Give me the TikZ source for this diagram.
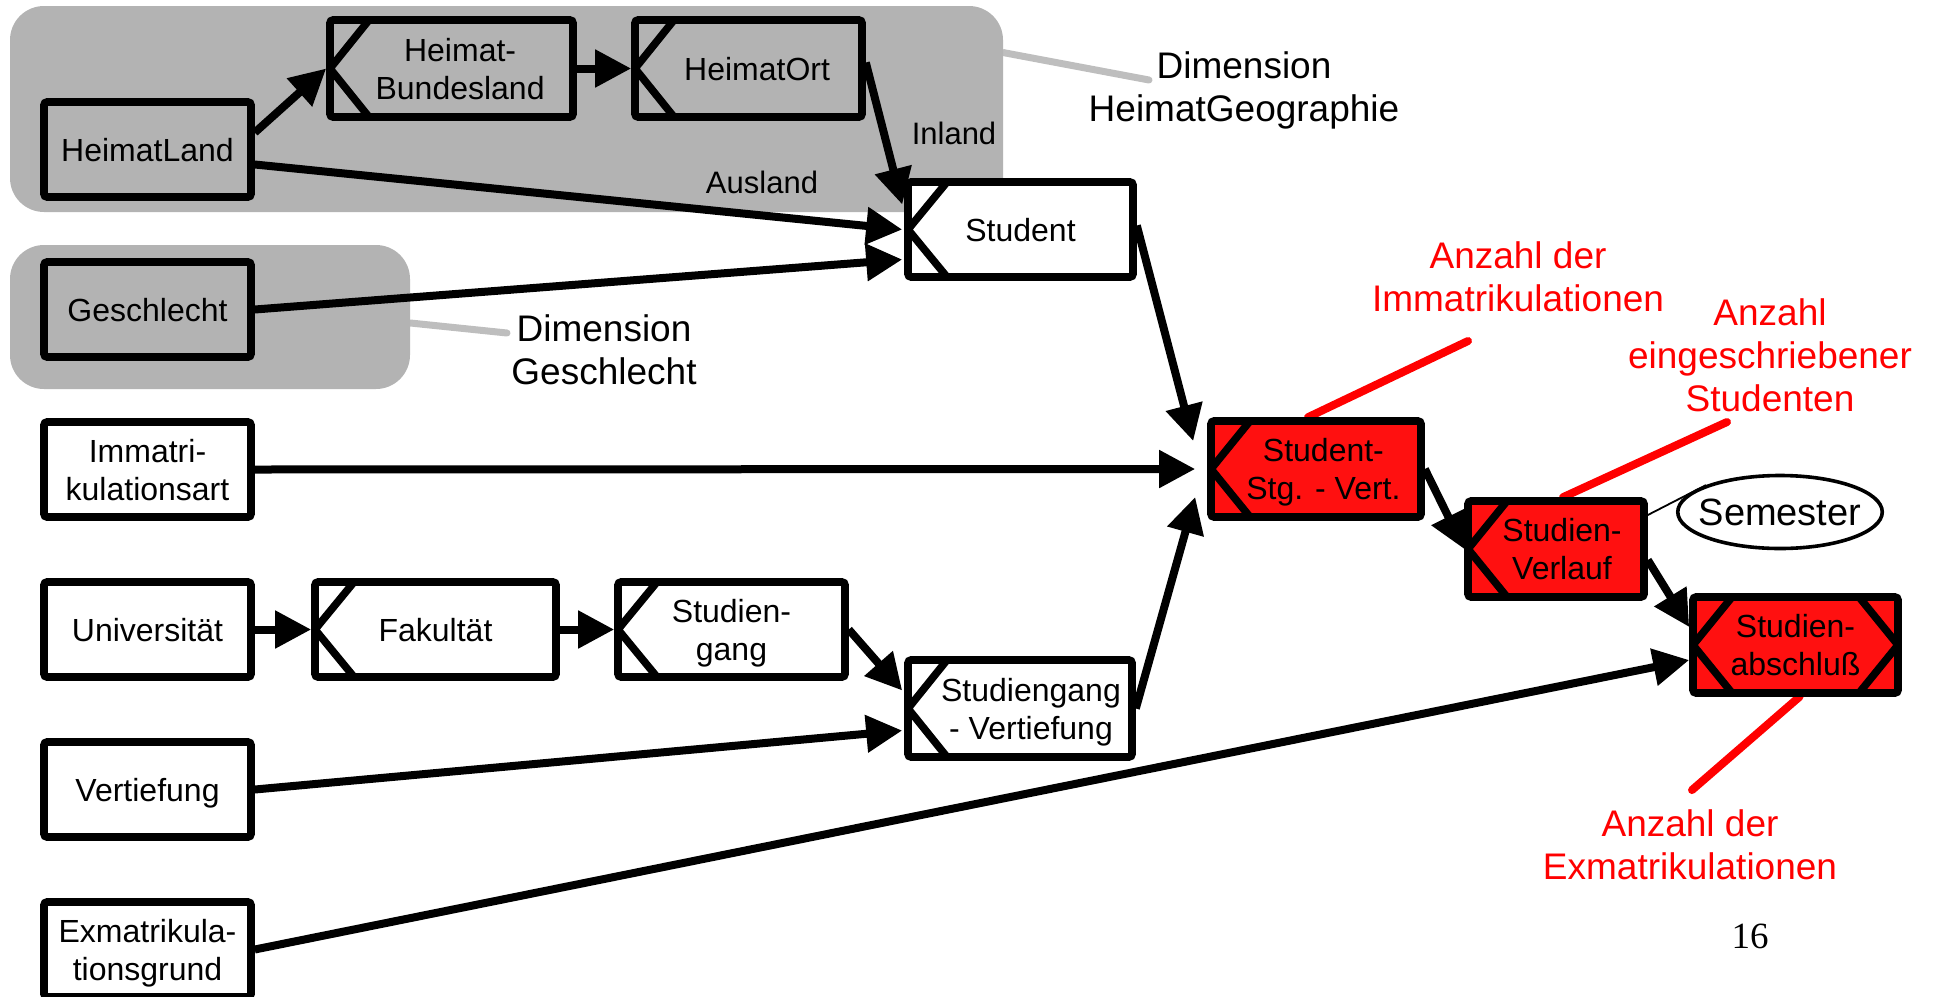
\documentclass[tikz,border=0pt]{standalone}
\usepackage{fontspec}
\setmainfont{Liberation Sans}
\newfontfamily\pagenumfont{Liberation Serif}
\usetikzlibrary{arrows.meta,calc,shapes.geometric,backgrounds}

\definecolor{regiongray}{RGB}{179,179,179}
\definecolor{leadergray}{RGB}{190,190,190}
\definecolor{factred}{RGB}{255,16,16}
\definecolor{notered}{RGB}{255,0,0}

% box caption: optional left padding, set slightly low in the box
\newcommand\boxtext[2][0pt]{\hspace*{#1}\raisebox{-2pt}[\height][\depth]{\begin{tabular}{@{}c@{}}#2\end{tabular}}}

\begin{document}
\begin{tikzpicture}[x=0.5pt,y=-0.5pt,
  region/.style={fill=regiongray, rounded corners=17pt, inner sep=0pt},
  box/.style={draw, line width=3.8pt, rounded corners=1.5pt,
    inner sep=0pt, font=\fontsize{16}{19}\selectfont, minimum height=47.5pt},
  dimbox/.style={box, fill=white},
  factbox/.style={box, fill=factred},
  notchleft/.style={path picture={
    \draw[line width=3.8pt]
      ([xshift=19.5pt]path picture bounding box.north west)
      -- (path picture bounding box.west)
      -- ([xshift=19.5pt]path picture bounding box.south west);}},
  notchboth/.style={path picture={
    \draw[line width=3.8pt]
      ([xshift=19.5pt]path picture bounding box.north west)
      -- (path picture bounding box.west)
      -- ([xshift=19.5pt]path picture bounding box.south west);
    \draw[line width=3.8pt]
      ([xshift=-19.5pt]path picture bounding box.north east)
      -- (path picture bounding box.east)
      -- ([xshift=-19.5pt]path picture bounding box.south east);}},
  conn/.style={line width=4pt, -{Triangle[length=18pt,width=18pt]}},
  redline/.style={draw=notered, line width=4pt, line cap=round},
  leader/.style={draw=leadergray, line width=3.5pt, line cap=round},
  lbl/.style={inner sep=0pt, align=center, font=\fontsize{18.5}{21.5}\selectfont},
  redlbl/.style={lbl, text=notered},
  smalllbl/.style={inner sep=0pt, font=\fontsize{15.5}{19}\selectfont}
]
\useasboundingbox (0,0) rectangle (1937,996);

% dimension areas
\node[region, minimum width=496.5pt, minimum height=103pt] (geoarea) at (506.5,109) {};
\node[region, minimum width=200pt, minimum height=72pt] (sexarea) at (210,317) {};

% dimension levels
\node[box, minimum width=103.5pt] (land) at (147.5,149.5) {\boxtext{HeimatLand}};
\node[box, notchleft, minimum width=121.5pt, minimum height=48.5pt] (bland) at (451.5,68.5) {\boxtext[8.6pt]{Heimat-\\Bundesland}};
\node[box, notchleft, minimum width=113.5pt, minimum height=48.5pt] (ort) at (748.5,68.5) {\boxtext[8.6pt]{HeimatOrt}};
\node[dimbox, notchleft, minimum width=112.5pt] (student) at (1020.5,229.5) {\boxtext{Student}};
\node[box, minimum width=103.5pt] (sex) at (147.5,309.5) {\boxtext{Geschlecht}};
\node[dimbox, minimum width=103.5pt] (immart) at (147.5,469.5) {\boxtext{Immatri-\\kulationsart}};
\node[dimbox, minimum width=103.5pt] (uni) at (147.5,629.5) {\boxtext{Universität}};
\node[dimbox, notchleft, minimum width=120.5pt] (fak) at (435.5,629.5) {\boxtext{Fakultät}};
\node[dimbox, notchleft, minimum width=113.5pt] (stg) at (731.5,629.5) {\boxtext{Studien-\\gang}};
\node[dimbox, notchleft, minimum width=112pt, minimum height=48.5pt] (stgvert) at (1020,708.5) {\boxtext[11pt]{Studiengang\\- Vertiefung}};
\node[dimbox, minimum width=103.5pt] (vert) at (147.5,789.5) {\boxtext{Vertiefung}};
\node[dimbox, minimum width=103.5pt] (exgrund) at (147.5,949.5) {\boxtext{Exmatrikula-\\tionsgrund}};

% fact tables
\node[factbox, notchleft, minimum width=105pt, minimum height=48pt] (ssv) at (1316,469) {\boxtext[7.4pt]{Student-\\Stg. - Vert.}};
\node[factbox, notchleft, minimum width=88pt, minimum height=48pt] (verlauf) at (1556,549) {\boxtext[6pt]{Studien-\\Verlauf}};
\node[factbox, notchboth, minimum width=102.5pt, minimum height=48pt] (abschluss) at (1795.5,645) {\boxtext{Studien-\\abschluß}};

\node[draw, ellipse, line width=1.8pt, minimum width=102pt, minimum height=36.5pt,
  inner xsep=-4.5pt, inner ysep=0pt, font=\fontsize{19}{21.5}\selectfont] (sem) at (1780,512) {Semester};

% annotations
\node[lbl] (dimgeo) at (1244,90) {Dimension\\HeimatGeographie};
\node[lbl] (dimsex) at (604,350) {Dimension\\Geschlecht};
\node[smalllbl] (inland) at (954,133) {Inland};
\node[smalllbl] (ausland) at (762,182) {Ausland};
\node[redlbl] (immnote) at (1518,277) {Anzahl der\\Immatrikulationen};
\node[redlbl] (studnote) at (1770,355) {Anzahl\\eingeschriebener\\Studenten};
\node[redlbl] (exnote) at (1690,845) {Anzahl der\\Exmatrikulationen};
\node[inner sep=0pt, font=\pagenumfont\fontsize{18.5}{21}\selectfont] (pagenum) at (1750,936) {16};

% free ends of the leader lines
\coordinate (geotip) at (1149,80);
\coordinate (sextip) at (507,333);
\coordinate (immtip) at (1468,341);
\coordinate (studtip) at (1727,422);
\coordinate (extip) at (1692,790);

\begin{scope}[on background layer]
  \draw[leader] ($(geoarea.north east)+(0,47)$) -- (geotip);
  \draw[leader] ($(sexarea.east)+(0,6)$) -- (sextip);
  \draw[redline] ($(ssv.north)+(-8,0)$) -- (immtip);
  \draw[redline] ($(verlauf.north)+(7,0)$) -- (studtip);
  \draw[redline] ($(abschluss.south)+(4,0)$) -- (extip);
\end{scope}

\draw[line width=0.9pt] ($(verlauf.east)+(0,-34)$) -- (sem.160);

% connectors
\draw[conn] ($(land.east)+(0,-17)$) -- (bland.west);
\draw[conn] (bland.east) -- (ort.west);
\draw[conn] ($(ort.east)+(0,-6)$) -- ($(student.west)+(-2,-25)$);
\draw[conn] ($(land.east)+(0,15)$) -- ($(student.west)+(-2,0)$);
\draw[conn] (sex.east) -- ($(student.west)+(-2,30)$);
\draw[conn] (immart.east) -- ($(ssv.west)+(-12,0)$);
\draw[conn] ($(student.east)+(0,-4)$) -- ($(ssv.west)+(-14,-28)$);
\draw[conn] (stgvert.east) -- ($(ssv.west)+(-12,28)$);
\draw[conn] (uni.east) -- (fak.west);
\draw[conn] (fak.east) -- (stg.west);
\draw[conn] (stg.east) -- ($(stgvert.west)+(-2,-18)$);
\draw[conn] (vert.east) -- ($(stgvert.west)+(-2,22)$);
\draw[conn] (ssv.east) -- (verlauf.west);
\draw[conn] ($(verlauf.east)+(0,11)$) -- ($(abschluss.west)+(0,-18)$);
\draw[conn] (exgrund.east) -- ($(abschluss.west)+(0,15)$);
\end{tikzpicture}
\end{document}
